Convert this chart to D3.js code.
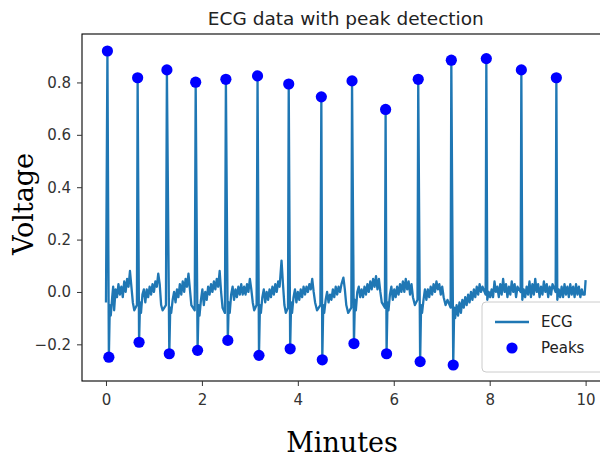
<!DOCTYPE html>
<html lang="en">
<head>
<meta charset="UTF-8">
<title>ECG data with peak detection</title>
<script src="https://cdn.jsdelivr.net/npm/d3@7"></script>
<style>
    body { margin: 0; background: #fff; }
    .tick text { font-family: "DejaVu Sans", sans-serif; font-size: 15px; fill: #333; }
    .tick line { stroke: #333; }
    .title { font-family: "DejaVu Sans", sans-serif; font-size: 18.5px; fill: #222; }
    .axisLabel { font-family: "DejaVu Serif", serif; font-size: 27px; fill: #000; }
    .legendText { font-family: "DejaVu Sans", sans-serif; font-size: 15px; fill: #222; }
</style>
</head>
<body>
<svg width="600" height="457"></svg>
<script>
    // tick labels
    const xTicks = [0, 2, 4, 6, 8, 10];
    const yTicks = [-0.2, 0.0, 0.2, 0.4, 0.6, 0.8];

    // detected peaks (minutes, voltage)
    const peakHighT = [0.03, 0.66, 1.27, 1.87, 2.50, 3.16, 3.81, 4.49, 5.13, 5.83, 6.51, 7.20, 7.93, 8.66, 9.39];
    const peakHighV = [0.920, 0.818, 0.848, 0.801, 0.812, 0.825, 0.794, 0.745, 0.806, 0.697, 0.812, 0.885, 0.891, 0.848, 0.818];
    const peakLowT = [0.06, 0.69, 1.32, 1.91, 2.54, 3.19, 3.84, 4.51, 5.17, 5.85, 6.55, 7.24];
    const peakLowV = [-0.249, -0.192, -0.236, -0.223, -0.185, -0.242, -0.217, -0.259, -0.197, -0.236, -0.266, -0.279];

    // ECG trace, [minutes, voltage]
    const ecg = [
        [0.00,-0.04],[0.03,0.92],[0.06,-0.249],[0.08,-0.05],[0.10,-0.09],[0.13,-0.02],[0.15,0.02],[0.17,-0.07],[0.20,0.01],[0.23,-0.02],[0.26,0.03],[0.29,-0.01],[0.32,0.02],[0.35,-0.02],[0.38,0.04],[0.41,0.0],[0.44,0.05],[0.47,0.02],[0.50,0.08],[0.53,0.02],[0.56,-0.04],[0.59,-0.07],[0.645,-0.05],[0.66,0.818],
        [0.69,-0.192],[0.71,-0.04],[0.73,-0.08],[0.76,-0.01],[0.79,0.01],[0.82,-0.04],[0.85,0.01],[0.88,-0.02],[0.91,0.02],[0.94,-0.01],[0.97,0.03],[1.00,0.0],[1.03,0.04],[1.06,0.02],[1.09,0.07],[1.12,0.03],[1.15,-0.05],[1.18,-0.07],[1.25,-0.05],[1.27,0.848],
        [1.32,-0.236],[1.34,-0.06],[1.36,-0.08],[1.39,-0.03],[1.42,0.0],[1.45,-0.04],[1.48,0.01],[1.51,-0.02],[1.54,0.03],[1.57,-0.01],[1.60,0.04],[1.63,0.0],[1.66,0.05],[1.69,0.02],[1.72,0.07],[1.75,0.01],[1.78,-0.05],[1.85,-0.07],[1.87,0.801],
        [1.91,-0.223],[1.93,-0.05],[1.95,-0.09],[1.98,-0.03],[2.01,0.01],[2.04,-0.05],[2.07,0.0],[2.10,-0.03],[2.13,0.02],[2.16,-0.01],[2.19,0.03],[2.22,0.0],[2.25,0.04],[2.28,0.01],[2.31,0.05],[2.34,0.02],[2.37,0.08],[2.40,0.0],[2.43,-0.06],[2.48,-0.08],[2.50,0.812],
        [2.54,-0.185],[2.56,-0.04],[2.58,-0.08],[2.61,-0.01],[2.64,0.02],[2.67,-0.03],[2.70,0.01],[2.73,-0.02],[2.76,0.02],[2.79,-0.01],[2.82,0.03],[2.85,-0.01],[2.88,0.02],[2.91,-0.01],[2.94,0.03],[2.97,0.0],[3.00,0.05],[3.03,0.01],[3.06,-0.04],[3.09,-0.07],[3.14,-0.05],[3.16,0.825],
        [3.19,-0.242],[3.21,-0.05],[3.23,-0.08],[3.26,-0.02],[3.29,0.01],[3.32,-0.04],[3.35,0.0],[3.38,-0.03],[3.41,0.01],[3.44,-0.02],[3.47,0.02],[3.50,-0.01],[3.53,0.03],[3.56,0.0],[3.59,0.04],[3.62,0.02],[3.66,0.12],[3.69,0.03],[3.72,-0.05],[3.75,-0.08],[3.795,-0.06],[3.81,0.794],
        [3.84,-0.217],[3.86,-0.04],[3.88,-0.08],[3.91,-0.02],[3.94,0.01],[3.97,-0.04],[4.00,0.0],[4.03,-0.03],[4.06,0.01],[4.09,-0.02],[4.12,0.02],[4.15,-0.01],[4.18,0.02],[4.21,0.0],[4.24,0.03],[4.27,0.01],[4.30,0.05],[4.33,0.0],[4.36,-0.04],[4.40,-0.07],[4.47,-0.05],[4.49,0.745],
        [4.51,-0.259],[4.53,-0.05],[4.55,-0.08],[4.58,-0.03],[4.61,0.0],[4.64,-0.04],[4.67,-0.01],[4.70,-0.03],[4.73,0.01],[4.76,-0.02],[4.79,0.02],[4.82,-0.01],[4.85,0.02],[4.88,0.0],[4.91,0.03],[4.95,0.055],[4.98,0.01],[5.01,-0.05],[5.05,-0.08],[5.115,-0.06],[5.13,0.806],
        [5.17,-0.197],[5.19,-0.03],[5.21,-0.07],[5.24,0.0],[5.27,0.02],[5.30,-0.02],[5.33,0.01],[5.36,-0.02],[5.39,0.02],[5.42,-0.01],[5.45,0.03],[5.48,0.0],[5.51,0.04],[5.54,0.01],[5.57,0.05],[5.60,0.02],[5.63,0.06],[5.66,0.01],[5.69,0.05],[5.72,0.0],[5.75,-0.04],[5.815,-0.06],[5.83,0.697],
        [5.85,-0.236],[5.87,-0.04],[5.89,-0.07],[5.92,-0.01],[5.95,0.02],[5.98,-0.03],[6.01,0.01],[6.04,-0.02],[6.07,0.02],[6.10,-0.01],[6.13,0.03],[6.16,0.0],[6.19,0.04],[6.22,0.0],[6.25,0.05],[6.28,0.01],[6.31,0.04],[6.34,-0.01],[6.37,0.03],[6.40,-0.02],[6.44,-0.05],[6.495,-0.03],[6.51,0.812],
        [6.55,-0.266],[6.57,-0.05],[6.59,-0.08],[6.62,-0.03],[6.65,0.01],[6.68,-0.03],[6.71,0.01],[6.74,-0.02],[6.77,0.02],[6.80,-0.01],[6.83,0.03],[6.86,0.0],[6.89,0.04],[6.92,0.01],[6.95,0.03],[6.98,-0.01],[7.01,0.02],[7.04,-0.02],[7.08,-0.05],[7.12,-0.03],[7.185,-0.06],[7.20,0.885],
        [7.24,-0.279],[7.26,-0.06],[7.28,-0.10],[7.31,-0.05],[7.34,-0.09],[7.37,-0.04],[7.40,-0.08],[7.43,-0.03],[7.46,-0.06],[7.49,-0.02],[7.52,-0.05],[7.55,-0.01],[7.58,-0.04],[7.61,0.0],[7.64,-0.03],[7.67,0.01],[7.70,-0.02],[7.73,0.02],[7.76,-0.01],[7.79,0.03],[7.82,0.0],[7.85,0.02],[7.915,-0.01],[7.93,0.891],
        [7.95,-0.03],[7.98,0.0],[8.01,-0.02],[8.04,0.01],[8.07,-0.02],[8.10,0.04],[8.13,0.0],[8.16,0.02],[8.19,-0.02],[8.22,0.03],[8.25,-0.01],[8.28,0.05],[8.31,0.0],[8.34,0.03],[8.37,-0.02],[8.40,0.02],[8.43,-0.01],[8.46,0.04],[8.49,0.0],[8.52,0.03],[8.55,-0.02],[8.58,0.02],[8.645,0.0],[8.66,0.848],
        [8.68,-0.03],[8.71,0.01],[8.74,-0.02],[8.77,0.02],[8.80,-0.01],[8.83,0.04],[8.86,-0.02],[8.89,0.03],[8.92,-0.01],[8.95,0.05],[8.98,0.0],[9.01,0.03],[9.04,-0.02],[9.07,0.02],[9.10,-0.01],[9.13,0.04],[9.16,0.0],[9.19,0.03],[9.22,-0.02],[9.25,0.02],[9.28,-0.01],[9.31,0.03],[9.375,0.0],[9.39,0.818],
        [9.41,-0.03],[9.44,0.01],[9.47,-0.02],[9.50,0.02],[9.53,-0.02],[9.56,0.03],[9.59,-0.01],[9.62,0.02],[9.65,-0.02],[9.68,0.03],[9.71,-0.01],[9.74,0.02],[9.77,-0.02],[9.80,0.03],[9.83,-0.01],[9.86,0.02],[9.89,-0.02],[9.92,0.01],[9.95,-0.01],[9.98,-0.01],[10.0,0.045]
    ];

    const svg = d3.select("svg");

    // plot box; right edge falls just outside the picture, as in the original
    const plotL = 82, plotR = 609.6, plotT = 34, plotB = 381;
    const x = d3.scaleLinear().domain([-0.5, 10.5]).range([plotL, plotR]);
    const y = d3.scaleLinear().domain([-0.34, 0.985]).range([plotB, plotT]);

    // ecg line
    svg.append("path")
        .datum(ecg)
        .attr("fill", "none")
        .attr("stroke", "#1f77b4")
        .attr("stroke-width", 2.3)
        .attr("stroke-linejoin", "round")
        .attr("d", d3.line().x(d => x(d[0])).y(d => y(d[1])));

    // peak dots
    const peaks = peakHighT.map((t, i) => [t, peakHighV[i]])
        .concat(peakLowT.map((t, i) => [t, peakLowV[i]]));
    svg.append("g").selectAll("circle")
        .data(peaks)
        .join("circle")
        .attr("cx", d => x(d[0]))
        .attr("cy", d => y(d[1]))
        .attr("r", 5.6)
        .attr("fill", "#0000ff");

    // spines
    svg.append("rect")
        .attr("x", plotL).attr("y", plotT)
        .attr("width", plotR - plotL).attr("height", plotB - plotT)
        .attr("fill", "none").attr("stroke", "#000").attr("stroke-width", 1.1);

    // axes
    const xAxis = svg.append("g")
        .attr("transform", `translate(0,${plotB})`)
        .call(d3.axisBottom(x).tickValues(xTicks).tickFormat(d3.format("d")).tickSize(5).tickPadding(8));
    xAxis.select(".domain").remove();

    const yAxis = svg.append("g")
        .attr("transform", `translate(${plotL},0)`)
        .call(d3.axisLeft(y).tickValues(yTicks).tickFormat(d3.format(".1f")).tickSize(5).tickPadding(6));
    yAxis.select(".domain").remove();
    // matplotlib style minus sign
    yAxis.selectAll(".tick text").text(d => d3.format(".1f")(d).replace("-", "\u2212"));

    // title and axis labels
    svg.append("text").attr("class", "title")
        .attr("x", (plotL + plotR) / 2).attr("y", 25)
        .attr("text-anchor", "middle")
        .text("ECG data with peak detection");

    svg.append("text").attr("class", "axisLabel")
        .attr("x", 342).attr("y", 452)
        .attr("text-anchor", "middle")
        .text("Minutes");

    svg.append("text").attr("class", "axisLabel")
        .attr("transform", "translate(33,204) rotate(-90)")
        .attr("text-anchor", "middle")
        .text("Voltage");

    // legend
    const lg = svg.append("g").attr("transform", "translate(482,302)");
    lg.append("rect")
        .attr("width", 140).attr("height", 70).attr("rx", 4)
        .attr("fill", "#fff").attr("fill-opacity", 0.85)
        .attr("stroke", "#ccc");
    lg.append("line")
        .attr("x1", 13).attr("x2", 47).attr("y1", 20).attr("y2", 20)
        .attr("stroke", "#1f77b4").attr("stroke-width", 2.3);
    lg.append("text").attr("class", "legendText").attr("x", 59).attr("y", 25).text("ECG");
    lg.append("circle").attr("cx", 30).attr("cy", 46).attr("r", 5.6).attr("fill", "#0000ff");
    lg.append("text").attr("class", "legendText").attr("x", 59).attr("y", 51).text("Peaks");
</script>
</body>
</html>
